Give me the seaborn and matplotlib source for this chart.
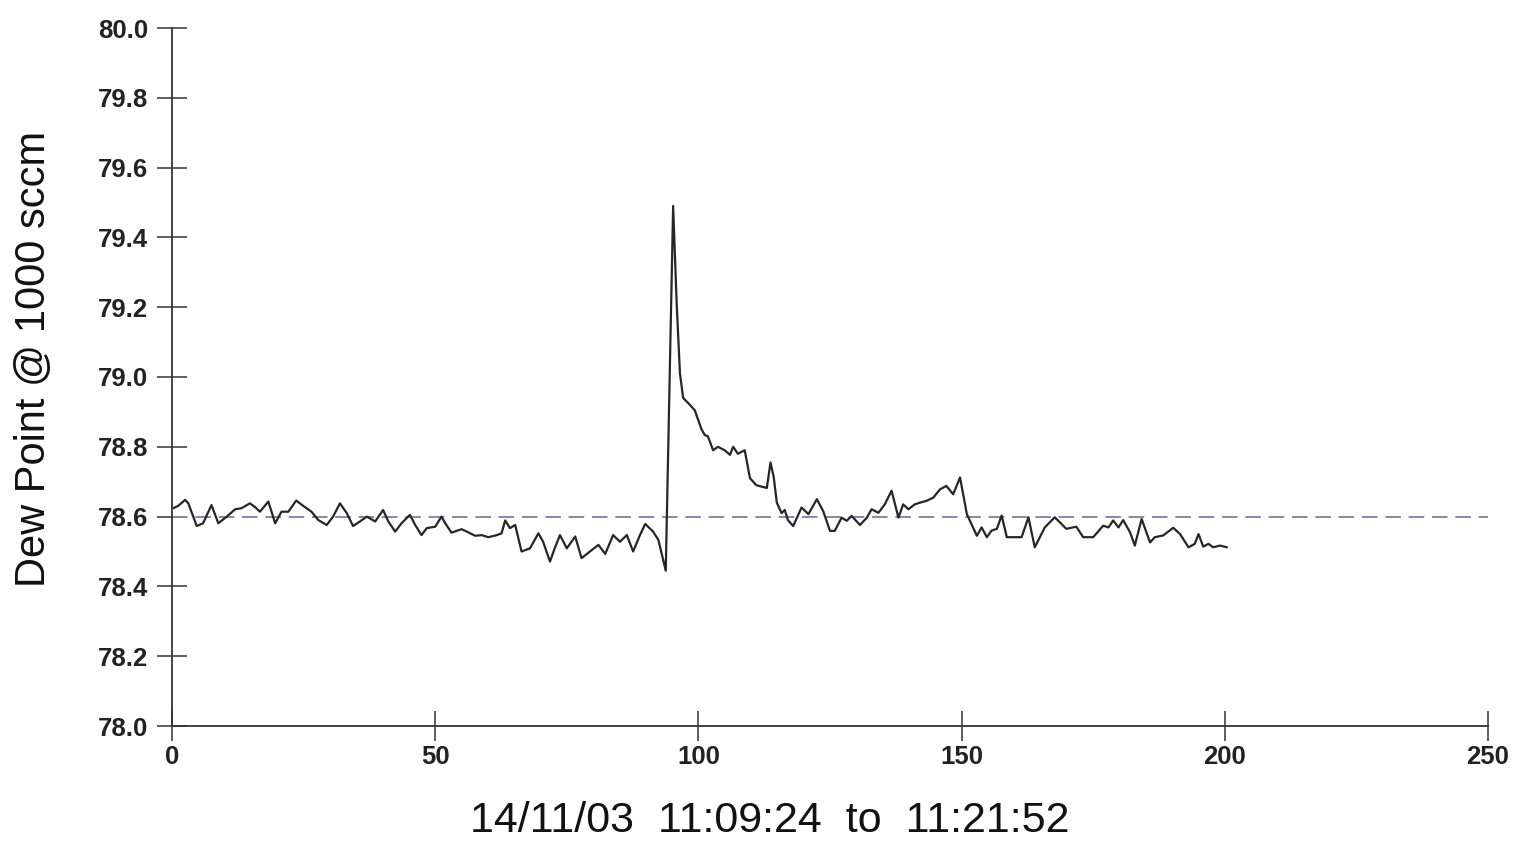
import numpy as np
import pandas as pd
import matplotlib
matplotlib.use("Agg")
import matplotlib.pyplot as plt
import seaborn as sns

# readings taken off the trace (sample number, dew point)
sample = [
    0.25, 1.2, 2.5, 3.1, 4.7, 5.9, 7.5, 8.8, 10.4, 12.0, 13.2, 14.8, 15.8, 16.7,
    18.3, 19.6, 20.8, 22.1, 23.6, 24.9, 26.5, 27.8, 29.4, 30.6, 31.9, 33.2, 34.4,
    35.7, 37.0, 38.6, 40.1, 41.1, 42.4, 43.6, 45.2, 46.2, 47.4, 48.4, 50.0, 51.2,
    51.9, 53.1, 55.0, 56.0, 57.6, 58.8, 60.1, 61.7, 62.6, 63.3, 64.2, 65.2, 66.4,
    68.0, 69.6, 70.5, 71.8, 72.7, 73.7, 75.0, 76.6, 77.8, 79.4, 81.0, 82.3, 83.8,
    85.1, 86.4, 87.6, 88.9, 89.9, 91.4, 92.4, 93.8,
    95.2, 95.9, 96.5, 97.1, 98.4, 99.3, 100.6, 101.2, 101.8, 102.8, 103.7, 105.0,
    106.0, 106.6, 107.5, 108.8, 109.8, 111.0, 113.0, 113.7, 114.3, 114.9, 115.8,
    116.4, 117.0, 118.0, 119.6, 120.9, 122.5, 123.7, 125.0, 125.9, 127.2, 128.2,
    129.1, 130.7, 132.0, 132.9, 134.2, 135.4, 136.7, 138.0, 138.9, 139.9, 141.1,
    142.1, 143.3, 144.6, 145.9, 147.1, 148.4, 149.7, 151.0, 152.9,
    153.8, 154.8, 155.7, 156.7, 157.6, 158.6, 161.4, 162.7, 163.9, 165.8, 167.7,
    169.9, 171.8, 173.1, 175.0, 176.9, 177.9, 178.8, 179.8, 180.7, 182.0, 182.9,
    184.2, 185.8, 186.7, 188.3, 190.2, 191.5, 193.1, 194.3, 195.0, 195.9, 196.9,
    197.8, 199.1, 200.4,
]
dew_point = [
    78.624, 78.631, 78.648, 78.638, 78.573, 78.581, 78.633, 78.581, 78.600, 78.621,
    78.624, 78.638, 78.627, 78.614, 78.643, 78.581, 78.614, 78.614, 78.646, 78.631,
    78.614, 78.590, 78.576, 78.600, 78.638, 78.610, 78.573, 78.586, 78.600, 78.586,
    78.619, 78.586, 78.557, 78.581, 78.605, 78.576, 78.547, 78.567, 78.571, 78.600,
    78.581, 78.554, 78.564, 78.557, 78.545, 78.547, 78.541, 78.547, 78.552, 78.589,
    78.567, 78.576, 78.500, 78.509, 78.552, 78.528, 78.471, 78.509, 78.547, 78.509,
    78.543, 78.481, 78.500, 78.519, 78.493, 78.547, 78.528, 78.547, 78.500, 78.547,
    78.579, 78.557, 78.533, 78.445,
    79.490, 79.200, 79.010, 78.940, 78.920, 78.905, 78.850, 78.834, 78.830, 78.790,
    78.800, 78.790, 78.777, 78.800, 78.780, 78.790, 78.710, 78.690, 78.682, 78.755,
    78.714, 78.640, 78.610, 78.619, 78.590, 78.573, 78.626, 78.607, 78.650, 78.616,
    78.559, 78.559, 78.597, 78.588, 78.602, 78.576, 78.597, 78.621, 78.611, 78.635,
    78.674, 78.597, 78.635, 78.621, 78.635, 78.640, 78.645, 78.654, 78.678, 78.688,
    78.664, 78.712, 78.607, 78.545,
    78.569, 78.541, 78.560, 78.565, 78.603, 78.541, 78.541, 78.598, 78.512, 78.569,
    78.598, 78.565, 78.571, 78.541, 78.541, 78.574, 78.569, 78.589, 78.569, 78.590,
    78.555, 78.517, 78.593, 78.526, 78.541, 78.546, 78.568, 78.550, 78.512, 78.522,
    78.550, 78.514, 78.522, 78.512, 78.517, 78.512,
]
reference_level = 78.6
x_ticks = [0, 50, 100, 150, 200, 250]
y_ticks = [78.0, 78.2, 78.4, 78.6, 78.8, 79.0, 79.2, 79.4, 79.6, 79.8, 80.0]
x_title = "14/11/03  11:09:24  to  11:21:52"
y_title = "Dew Point @ 1000 sccm"

df = pd.DataFrame({"sample": sample, "dew": dew_point})

sns.set_style("white")
plt.rcParams["font.family"] = ["Liberation Sans", "DejaVu Sans"]

fig = plt.figure(figsize=(15.3, 8.41), dpi=100)
ax = fig.add_axes([172 / 1530, 1 - 726 / 841, (1488 - 172) / 1530, (726 - 28) / 841])

ax.axhline(reference_level, color="#8c84b0", lw=1.4, ls=(0, (8, 4)), zorder=1)
sns.lineplot(data=df, x="sample", y="dew", ax=ax, color="#262626", lw=1.6,
             sort=False, estimator=None, zorder=2)

ax.set_xlim(0, 250)
ax.set_ylim(78.0, 80.0)
ax.set_xticks(x_ticks)
ax.set_yticks(y_ticks)
ax.set_xticklabels([str(t) for t in x_ticks])
ax.set_yticklabels([f"{t:.1f}" for t in y_ticks])
ax.set_xlabel("")
ax.set_ylabel("")

for side in ["top", "right"]:
    ax.spines[side].set_visible(False)
for side in ["left", "bottom"]:
    ax.spines[side].set_color("#333333")
    ax.spines[side].set_linewidth(1.3)

ax.tick_params(direction="inout", length=22, width=1.1, color="#333333",
               labelsize=18.5, left=True, bottom=True)
ax.tick_params(axis="y", pad=6)
ax.tick_params(axis="x", pad=3)
for lab in ax.get_xticklabels() + ax.get_yticklabels():
    lab.set_fontweight("bold")
    lab.set_color("#222222")

# titles placed by hand, the x one sits low near the bottom edge
fig.text(770 / 1530, 1 - 821 / 841, x_title, fontsize=31, color="#111111",
         ha="center", va="center")
fig.text(34 / 1530, 1 - 359 / 841, y_title, fontsize=30, color="#111111",
         ha="center", va="center", rotation=90)

fig.savefig("out.png", dpi=100, facecolor="white")
